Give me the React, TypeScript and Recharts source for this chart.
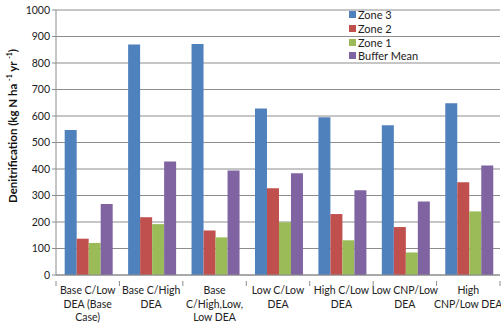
import { Bar, BarChart, CartesianGrid, XAxis, YAxis } from 'recharts'

// Scenario labels, line breaks as they wrap under each group
const scenarios = [
  'Base C/Low\nDEA (Base\nCase)',
  'Base C/High\nDEA',
  'Base\nC/High,Low,\nLow DEA',
  'Low C/Low\nDEA',
  'High C/Low\nDEA',
  'Low CNP/Low\nDEA',
  'High\nCNP/Low DEA',
]

const zone3 = [547, 870, 872, 628, 595, 565, 648]
const zone2 = [137, 218, 168, 327, 230, 181, 350]
const zone1 = [121, 192, 142, 199, 131, 85, 240]
const bufferMean = [268, 428, 394, 384, 320, 277, 413]

const yTicks = [0, 100, 200, 300, 400, 500, 600, 700, 800, 900, 1000]

const SERIES = [
  { key: 'zone3', name: 'Zone 3', color: '#4F81BD' },
  { key: 'zone2', name: 'Zone 2', color: '#C0504D' },
  { key: 'zone1', name: 'Zone 1', color: '#9BBB59' },
  { key: 'buffer', name: 'Buffer Mean', color: '#8064A2' },
]

const data = scenarios.map((label, i) => ({
  label,
  zone3: zone3[i],
  zone2: zone2[i],
  zone1: zone1[i],
  buffer: bufferMean[i],
}))

const W = 501
const H = 323
const PLOT_LEFT = 56
const PLOT_RIGHT = 500
const BAND = (PLOT_RIGHT - PLOT_LEFT) / scenarios.length
const FONT = 'Lato, "Open Sans", sans-serif'
const GRID = '#8c8c8c'

function ScenarioTick(props: any) {
  const { x, y, payload, index } = props
  const lines = String(payload.value).split('\n')
  const left = x - BAND / 2
  return (
    <g>
      <line x1={left} x2={left} y1={y - 2} y2={y + 3} stroke={GRID} />
      {index === scenarios.length - 1 && (
        <line x1={left + BAND} x2={left + BAND} y1={y - 2} y2={y + 3} stroke={GRID} />
      )}
      <text x={x} y={y} textAnchor="middle" fill="#222" fontSize={10.5} fontFamily={FONT}>
        {lines.map((ln, i) => (
          <tspan key={i} x={x} dy={i === 0 ? 11 : 13.5}>
            {ln}
          </tspan>
        ))}
      </text>
    </g>
  )
}

export default function App() {
  return (
    <div style={{ position: 'fixed', left: 0, top: 0, width: W, height: H, background: '#fff' }}>
      <BarChart
        width={W}
        height={H}
        data={data}
        margin={{ top: 10, right: 1, bottom: 0, left: 0 }}
        barCategoryGap="13.7%"
        barGap={0}
      >
        <CartesianGrid vertical={false} stroke={GRID} strokeWidth={1} />
        <XAxis
          dataKey="label"
          height={48}
          interval={0}
          axisLine={{ stroke: GRID }}
          tickLine={false}
          tick={<ScenarioTick />}
        />
        <YAxis
          width={PLOT_LEFT}
          domain={[0, 1000]}
          ticks={yTicks}
          interval={0}
          axisLine={{ stroke: GRID }}
          tickLine={{ stroke: GRID }}
          tickSize={4}
          tick={{ fill: '#222', fontSize: 10.5, fontFamily: FONT }}
        />
        <YAxis
          yAxisId="frame"
          orientation="right"
          width={0}
          tick={false}
          tickLine={false}
          axisLine={{ stroke: GRID }}
        />
        {SERIES.map((s) => (
          <Bar key={s.key} dataKey={s.key} name={s.name} fill={s.color} isAnimationActive={false} />
        ))}
      </BarChart>
      <div
        style={{
          position: 'absolute',
          left: 349,
          top: 8,
          fontFamily: FONT,
          fontSize: 11,
          color: '#222',
        }}
      >
        {SERIES.map((s) => (
          <div key={s.key} style={{ display: 'flex', alignItems: 'center', height: 13.7 }}>
            <span style={{ width: 7, height: 7, background: s.color, marginRight: 2 }} />
            {s.name}
          </div>
        ))}
      </div>
      <div
        style={{
          position: 'absolute',
          left: 12,
          top: 126,
          transform: 'translate(-50%, -50%) rotate(-90deg)',
          whiteSpace: 'nowrap',
          fontFamily: FONT,
          fontSize: 11.5,
          fontWeight: 700,
          color: '#111',
        }}
      >
        Denitrification (kg N ha <sup style={{ fontSize: 7 }}>-1</sup> yr <sup style={{ fontSize: 7 }}>-1</sup>)
      </div>
    </div>
  )
}
